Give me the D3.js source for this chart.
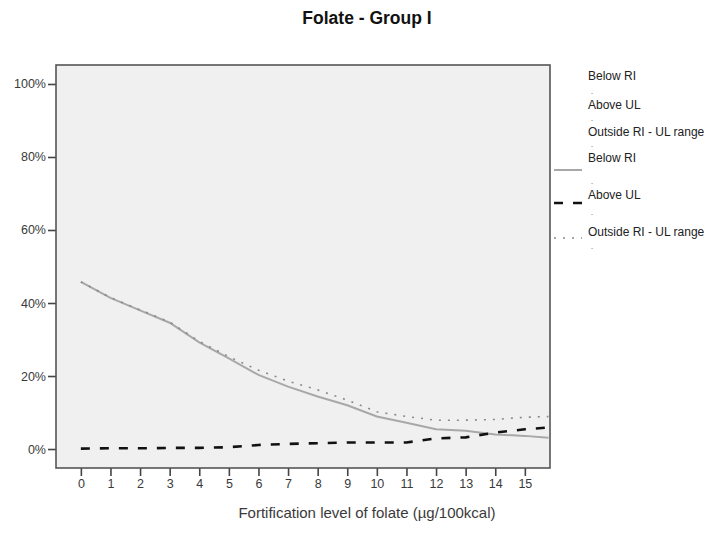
<!DOCTYPE html>
<html>
<head>
<meta charset="utf-8">
<script src="https://cdn.jsdelivr.net/npm/d3@7/dist/d3.min.js"></script>
<style>
  html, body { margin: 0; padding: 0; background: #fff; }
  svg { display: block; font-family: "Liberation Sans", Arial, sans-serif; }
</style>
</head>
<body>
<svg id="chart" width="713" height="534"></svg>
<script>
// Fortification levels (µg/100kcal)
const levels = [0, 1, 2, 3, 4, 5, 6, 7, 8, 9, 10, 11, 12, 13, 14, 15, 15.8];
// Share of population (%) per series
const belowRI   = [45.8, 41.4, 38.0, 34.6, 29.2, 24.8, 20.3, 17.1, 14.4, 12.0, 8.9, 7.2, 5.4, 5.0, 4.0, 3.6, 3.1];
const aboveUL   = [0.1, 0.2, 0.2, 0.3, 0.3, 0.5, 1.1, 1.4, 1.6, 1.8, 1.8, 1.8, 2.9, 3.2, 4.5, 5.4, 5.9];
const outsideRange = [45.8, 41.5, 38.1, 34.8, 29.5, 25.3, 21.6, 18.6, 16.2, 13.4, 10.2, 8.9, 7.9, 7.9, 8.1, 8.7, 8.9];
const xTicks = [0, 1, 2, 3, 4, 5, 6, 7, 8, 9, 10, 11, 12, 13, 14, 15];
const yTicks = [0, 20, 40, 60, 80, 100];

const svg = d3.select("#chart");
const plot = { left: 56, top: 65, right: 550, bottom: 468 };

const x = d3.scaleLinear().domain([-0.84, 15.85]).range([plot.left, plot.right]);
const y = d3.scaleLinear().domain([-5.2, 105.2]).range([plot.bottom, plot.top]);

// title
svg.append("text")
  .attr("x", 367).attr("y", 24)
  .attr("text-anchor", "middle")
  .attr("font-size", 17.5).attr("font-weight", "bold").attr("fill", "#111")
  .text("Folate - Group I");

// plot background
svg.append("rect")
  .attr("x", plot.left).attr("y", plot.top)
  .attr("width", plot.right - plot.left).attr("height", plot.bottom - plot.top)
  .attr("fill", "#f0f0f0");

// axes
const yAxis = svg.append("g")
  .attr("transform", `translate(${plot.left},0)`)
  .call(d3.axisLeft(y).tickValues(yTicks).tickFormat(d => d + "%").tickSize(8).tickPadding(2));
const xAxis = svg.append("g")
  .attr("transform", `translate(0,${plot.bottom})`)
  .call(d3.axisBottom(x).tickValues(xTicks).tickFormat(d3.format("d")).tickSize(8).tickPadding(3));

[yAxis, xAxis].forEach(g => {
  g.select(".domain").remove();
  g.selectAll(".tick line").attr("stroke", "#444").attr("stroke-width", 1.6);
  g.selectAll(".tick text")
    .attr("font-size", 12.5).attr("fill", "#3a3a3a")
    .attr("font-family", "Liberation Sans, Arial, sans-serif");
});

// frame
svg.append("rect")
  .attr("x", plot.left).attr("y", plot.top)
  .attr("width", plot.right - plot.left).attr("height", plot.bottom - plot.top)
  .attr("fill", "none").attr("stroke", "#555").attr("stroke-width", 1.6);

// series
const series = [
  { name: "Below RI", values: belowRI, stroke: "#a8a8a8", width: 2, dash: null },
  { name: "Above UL", values: aboveUL, stroke: "#111", width: 2.6, dash: "9,10" },
  { name: "Outside RI - UL range", values: outsideRange, stroke: "#8a8a8a", width: 1.6, dash: "2,7" }
];

const line = d3.line().x(d => x(d[0])).y(d => y(d[1]));

series.forEach(s => {
  svg.append("path")
    .datum(levels.map((l, i) => [l, s.values[i]]))
    .attr("d", line)
    .attr("fill", "none")
    .attr("stroke", s.stroke)
    .attr("stroke-width", s.width)
    .attr("stroke-dasharray", s.dash);
});

// x axis title
svg.append("text")
  .attr("x", 367).attr("y", 518)
  .attr("text-anchor", "middle")
  .attr("font-size", 15).attr("fill", "#3a3a3a")
  .text("Fortification level of folate (µg/100kcal)");

// legend: label baseline, dot baseline, optional line sample
const legend = svg.append("g").attr("font-size", 12).attr("fill", "#222");
const legendItems = [
  { label: "Below RI", y: 80, dy: 94 },
  { label: "Above UL", y: 109, dy: 121 },
  { label: "Outside RI - UL range", y: 136, dy: 147 },
  { label: "Below RI", y: 162, dy: 184, s: series[0], ly: 170 },
  { label: "Above UL", y: 199, dy: 215, s: series[1], ly: 203 },
  { label: "Outside RI - UL range", y: 236, dy: 249, s: series[2], ly: 238 }
];
legendItems.forEach(it => {
  legend.append("text").attr("x", 588).attr("y", it.y).text(it.label);
  legend.append("text").attr("x", 591).attr("y", it.dy).attr("font-size", 7).text(".");
  if (it.s) {
    legend.append("line")
      .attr("x1", 554).attr("x2", 582).attr("y1", it.ly).attr("y2", it.ly)
      .attr("stroke", it.s.stroke).attr("stroke-width", it.s.width)
      .attr("stroke-dasharray", it.s.dash);
  }
});
</script>
</body>
</html>
